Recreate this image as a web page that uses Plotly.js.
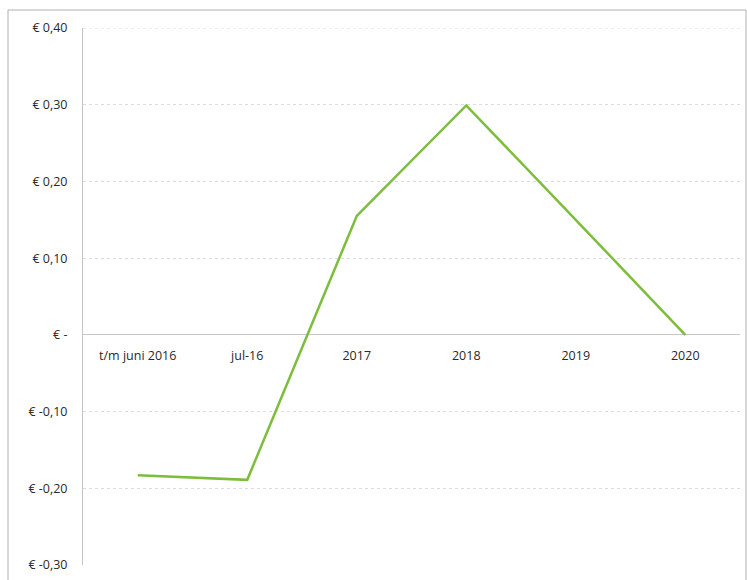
<!DOCTYPE html>
<html>
<head>
<meta charset="utf-8">
<script src="https://cdn.plot.ly/plotly-3.0.1.min.js"></script>
<style>html,body{margin:0;padding:0;background:#fff;}</style>
</head>
<body>
<div id="chart" style="width:747px;height:580px;"></div>
<script>
const categories = ["t/m juni 2016", "jul-16", "2017", "2018", "2019", "2020"];
const values = [-0.183, -0.189, 0.155, 0.299, 0.15, 0.0];
const yTickVals = [-0.3, -0.2, -0.1, 0, 0.1, 0.2, 0.3, 0.4];
const yTickText = ["€ -0,30", "€ -0,20", "€ -0,10", "€ -", "€ 0,10", "€ 0,20", "€ 0,30", "€ 0,40"];

const trace = {
  x: categories,
  y: values,
  type: "scatter",
  mode: "lines",
  line: {color: "#7dbd3c", width: 2.5},
  hoverinfo: "x+y"
};

const ymin = -0.3, ymax = 0.4;
const layout = {
  width: 747, height: 580,
  margin: {l: 83, r: 7, t: 28, b: 15},
  paper_bgcolor: "#ffffff",
  plot_bgcolor: "#ffffff",
  showlegend: false,
  font: {family: "Open Sans, Liberation Sans, sans-serif", size: 12, color: "#333"},
  xaxis: {
    type: "category",
    anchor: "free",
    position: (0 - ymin) / (ymax - ymin),
    showgrid: false,
    showline: false,
    zeroline: false,
    ticks: "",
    ticklabelstandoff: 12,
    tickfont: {size: 12.5, color: "#2a2a2a"},
    range: [-0.5, 5.5]
  },
  yaxis: {
    range: [ymin, ymax],
    tickvals: yTickVals,
    ticktext: yTickText,
    showgrid: true,
    gridcolor: "#dcdcdc",
    griddash: "dot",
    gridwidth: 1,
    zeroline: true,
    zerolinecolor: "#c8c8c8",
    zerolinewidth: 1,
    showline: true,
    linecolor: "#c4c4c4",
    linewidth: 1,
    ticks: "",
    ticklabelstandoff: 12,
    tickfont: {size: 12.5, color: "#2a2a2a"}
  },
  shapes: [{
    type: "rect", xref: "paper", yref: "paper",
    x0: (8 - 83) / 657, x1: (746 - 83) / 657,
    y0: (565 - 581) / 537, y1: (565 - 10) / 537,
    line: {color: "#b0b0b0", width: 1},
    fillcolor: "rgba(0,0,0,0)",
    layer: "below"
  }, {
    type: "line", xref: "paper", yref: "y",
    x0: 0, x1: 1, y0: ymax, y1: ymax,
    line: {color: "#dcdcdc", width: 1, dash: "dot"},
    layer: "below"
  }]
};

Plotly.newPlot("chart", [trace], layout, {displayModeBar: false, staticPlot: true});
</script>
</body>
</html>
